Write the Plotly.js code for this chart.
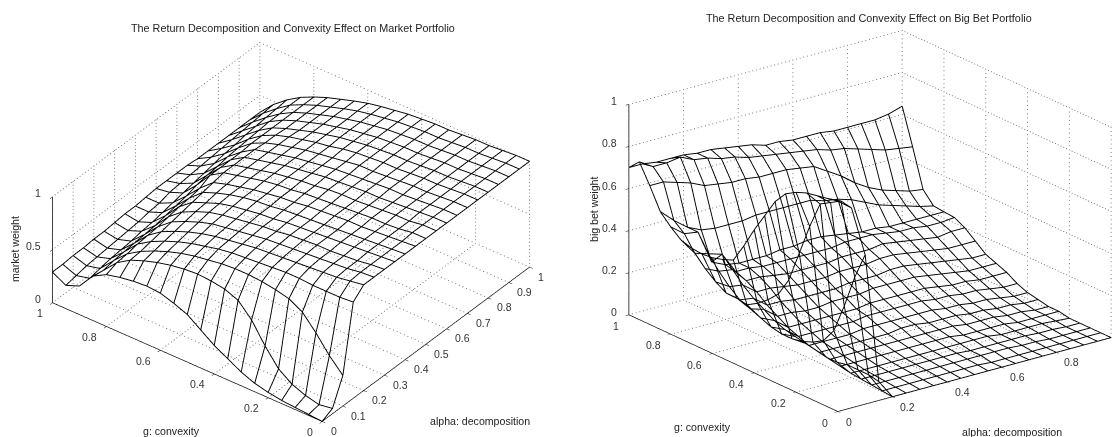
<!DOCTYPE html>
<html><head><meta charset="utf-8">
<script src="https://cdn.plot.ly/plotly-3.0.1.min.js"></script>
<style>html,body{margin:0;padding:0;background:#fff;overflow:hidden;width:1117px;height:437px}#c{position:absolute;left:0;top:0}</style>
</head><body><div id="c"></div>
<script>
// g: convexity (columns)
const gValues=[0,.05,.1,.15,.2,.25,.3,.35,.4,.45,.5,.55,.6,.65,.7,.75,.8,.85,.9,.95,1];
// alpha: decomposition (rows)
const alphaValues=[0,.05,.1,.15,.2,.25,.3,.35,.4,.45,.5,.55,.6,.65,.7,.75,.8,.85,.9,.95,1];
// market weight: one row per alpha, one column per g
const marketWeight=[
[0,.01,.02,.03,.05,.08,.13,.20,.27,.36,.45,.50,.54,.55,.54,.52,.49,.42,.27,.22,.29],
[.05,.03,.06,.11,.20,.36,.55,.68,.73,.75,.76,.75,.73,.70,.66,.61,.53,.40,.27,.24,.29],
[.29,.42,.58,.72,.79,.82,.84,.85,.85,.84,.82,.80,.77,.73,.68,.62,.54,.42,.29,.26,.30],
[.91,.90,.90,.90,.91,.91,.90,.89,.88,.87,.85,.82,.79,.75,.70,.64,.56,.43,.31,.27,.30],
[1,.98,.96,.95,.94,.93,.92,.91,.90,.88,.86,.84,.81,.77,.72,.66,.57,.44,.32,.28,.31],
[1,.99,.97,.96,.95,.94,.93,.92,.91,.89,.87,.85,.83,.79,.74,.68,.58,.45,.33,.29,.31],
[1,.99,.97,.96,.95,.95,.94,.93,.91,.90,.88,.86,.84,.81,.76,.70,.60,.46,.35,.30,.32],
[1,.99,.98,.97,.96,.95,.94,.93,.92,.90,.89,.87,.85,.82,.77,.72,.62,.48,.36,.31,.33],
[1,.99,.98,.97,.96,.95,.94,.93,.92,.91,.89,.88,.86,.83,.79,.74,.63,.50,.38,.33,.33],
[1,.99,.98,.97,.96,.96,.95,.94,.93,.91,.90,.88,.86,.83,.80,.76,.65,.52,.40,.34,.34],
[1,1,.98,.97,.97,.96,.95,.94,.93,.92,.90,.89,.87,.84,.81,.78,.70,.55,.42,.37,.35],
[1,1,.98,.98,.97,.96,.95,.95,.94,.92,.91,.89,.87,.84,.81,.78,.70,.57,.44,.38,.35],
[1,1,.99,.98,.97,.96,.96,.95,.94,.93,.91,.89,.87,.84,.81,.78,.70,.58,.46,.39,.35],
[1,1,.99,.98,.97,.97,.96,.95,.94,.93,.91,.89,.87,.84,.81,.78,.70,.60,.48,.40,.35],
[1,1,.99,.98,.98,.97,.96,.95,.95,.93,.91,.89,.87,.84,.81,.77,.71,.61,.50,.41,.34],
[1,1,.99,.98,.98,.97,.96,.96,.95,.94,.92,.89,.87,.84,.81,.77,.71,.62,.51,.42,.34],
[1,1,.99,.98,.98,.97,.96,.96,.95,.94,.92,.90,.87,.84,.80,.76,.71,.63,.53,.43,.34],
[1,1,.99,.98,.98,.97,.96,.96,.95,.94,.92,.90,.87,.84,.80,.76,.71,.64,.54,.44,.34],
[1,1,.99,.98,.98,.97,.96,.96,.95,.94,.92,.90,.87,.84,.80,.76,.71,.64,.55,.45,.34],
[1,1,.99,.98,.98,.97,.96,.96,.95,.94,.92,.90,.875,.84,.80,.76,.71,.65,.56,.46,.34],
[1,1,.99,.98,.98,.97,.96,.96,.95,.94,.92,.90,.875,.84,.80,.76,.71,.65,.57,.47,.34]
];
// big bet weight: one row per alpha, one column per g
const bigBetWeight=[
[1,.99,.98,.97,.95,.92,.86,.77,.68,.58,.49,.47,.455,.45,.455,.47,.51,.56,.66,.75,.70],
[.95,.96,.93,.90,.77,.62,.47,.38,.33,.29,.26,.27,.27,.30,.34,.39,.46,.50,.66,.71,.70],
[.71,.58,.42,.28,.21,.18,.16,.15,.15,.16,.18,.20,.22,.26,.31,.37,.45,.45,.64,.71,.69],
[.09,.10,.10,.10,.09,.09,.10,.11,.12,.13,.15,.18,.21,.25,.30,.35,.29,.42,.62,.72,.69],
[0,.005,.01,.015,.02,.03,.04,.05,.06,.08,.10,.13,.16,.20,.23,.25,.26,.41,.59,.69,.69],
[0,.005,.01,.015,.02,.03,.04,.05,.06,.08,.10,.13,.16,.20,.23,.25,.25,.41,.58,.68,.68],
[0,.005,.01,.015,.02,.03,.04,.05,.06,.08,.10,.12,.15,.19,.22,.24,.25,.41,.57,.66,.68],
[0,.005,.01,.015,.02,.03,.04,.05,.06,.08,.10,.12,.15,.18,.21,.24,.25,.42,.57,.65,.67],
[0,.005,.01,.015,.02,.03,.04,.05,.07,.08,.10,.13,.15,.18,.21,.24,.26,.42,.56,.63,.66],
[0,.005,.01,.015,.02,.03,.04,.05,.07,.09,.10,.13,.15,.18,.21,.24,.26,.42,.56,.62,.65],
[0,.005,.01,.015,.02,.03,.04,.06,.07,.09,.11,.13,.16,.19,.21,.24,.27,.42,.56,.61,.63],
[0,.005,.01,.015,.02,.03,.04,.06,.07,.09,.11,.14,.16,.19,.22,.24,.27,.42,.55,.60,.63],
[0,0,.01,.01,.02,.03,.04,.05,.07,.09,.11,.14,.16,.19,.22,.25,.26,.40,.54,.59,.62],
[0,0,.01,.01,.02,.02,.04,.05,.07,.09,.11,.14,.17,.20,.22,.25,.25,.39,.50,.58,.62],
[0,0,.01,.01,.02,.02,.03,.05,.06,.08,.11,.14,.17,.20,.23,.25,.24,.37,.46,.56,.62],
[0,0,.005,.01,.01,.02,.03,.04,.06,.08,.10,.13,.16,.19,.22,.24,.24,.34,.41,.55,.61],
[0,0,.005,.01,.01,.02,.03,.04,.05,.07,.09,.12,.15,.18,.21,.23,.23,.31,.37,.53,.61],
[0,0,0,.005,.01,.01,.02,.03,.05,.07,.09,.11,.14,.17,.20,.23,.23,.29,.34,.51,.61],
[0,0,0,.005,.01,.01,.02,.03,.04,.06,.08,.10,.13,.16,.19,.22,.23,.27,.32,.49,.61],
[0,0,0,0,.005,.01,.01,.02,.03,.05,.08,.10,.12,.16,.20,.22,.23,.25,.30,.48,.62],
[0,0,0,0,0,.01,.01,.02,.03,.05,.08,.10,.12,.16,.20,.226,.23,.235,.29,.47,.64]
];
const leftZTicks=[0,.5,1], rightZTicks=[0,.2,.4,.6,.8,1];
const gTicks=[0,.2,.4,.6,.8,1];
const leftAlphaTicks=[0,.1,.2,.3,.4,.5,.6,.7,.8,.9,1], rightAlphaTicks=[0,.2,.4,.6,.8];

const W=1140,H=437;
function wire(rows,scene){
  const x=[],y=[],z=[];
  rows.forEach((row,i)=>{row.forEach((v,j)=>{x.push(alphaValues[i]);y.push(gValues[j]);z.push(v)});x.push(null);y.push(null);z.push(null)});
  gValues.forEach((g,j)=>{rows.forEach((row,i)=>{x.push(alphaValues[i]);y.push(g);z.push(row[j])});x.push(null);y.push(null);z.push(null)});
  return {type:'scatter3d',mode:'lines',scene,x,y,z,line:{color:'#000',width:1.9},hoverinfo:'skip',showlegend:false};
}
// dotted reference lines on the floor and the two back walls, at the tick values
function grid(aT,gT,zT,scene,zStep){
  const x=[],y=[],z=[];
  const run=(a,b,n)=>{for(let i=0;i<=n;i++){const t=i/n;x.push(a[0]+(b[0]-a[0])*t);y.push(a[1]+(b[1]-a[1])*t);z.push(a[2]+(b[2]-a[2])*t)}};
  const nH=75,nV=Math.round(1/zStep);
  aT.concat(aT.indexOf(1)<0?[1]:[]).forEach(a=>{run([a,0,0],[a,1,0],nH);run([a,1,0],[a,1,1],nV)});
  gT.forEach(g=>{run([0,g,0],[1,g,0],nH);run([1,g,0],[1,g,1],nV)});
  zT.forEach(v=>{run([0,1,v],[1,1,v],nH);run([1,1,v],[1,0,v],nH)});
  return {type:'scatter3d',mode:'markers',scene,x,y,z,marker:{color:'#666',size:.6,opacity:1,line:{width:0}},hoverinfo:'skip',showlegend:false};
}
const tickFont={family:'Liberation Sans',size:10.5,color:'#333'};
function axis(ticks){
  return {range:[0,1],autorange:false,tickmode:'array',tickvals:ticks,showticklabels:false,
    showgrid:false,zeroline:false,showbackground:false,showspikes:false,showline:true,linecolor:'#000',linewidth:1.5,
    ticks:'outside',ticklen:4,tickcolor:'#000',tickwidth:1,title:{text:''}};
}
// tick labels anchored to the tick positions on the axes
function labels(aT,zT){
  const a=[];
  const lab=(v,x,y,z,dx,dy,anchor)=>a.push({x,y,z,text:String(v),showarrow:false,xanchor:anchor||'center',yanchor:'middle',xshift:dx,yshift:dy,font:tickFont});
  zT.forEach(v=>lab(v,0,1,v,-9,3,'right'));
  gTicks.forEach(g=>lab(g,0,g,0,(g===0||g===1)?-12.5:-17,-11));
  aT.forEach(t=>lab(t,t,0,0,(t===0||t===1)?11.5:16,-10));
  return a;
}
function scene(cx,cy,hw,hh,eye,az,zt,at,k){
  return {domain:{x:[(cx-hw)/W,(cx+hw)/W],y:[1-(cy+hh)/H,1-(cy-hh)/H]},
    xaxis:axis(at),yaxis:axis(gTicks),zaxis:axis(zt),annotations:labels(at,zt),
    aspectmode:'manual',aspectratio:{x:k,y:k,z:az*k},
    camera:{projection:{type:'orthographic'},up:{x:0,y:0,z:1},center:{x:0,y:0,z:0},
      eye:{x:eye[0]*2,y:eye[1]*2,z:eye[2]*2}}};
}
function note(t,px,py,size,rot){return {text:t,xref:'paper',yref:'paper',x:px/W,y:1-py/H,showarrow:false,xanchor:'center',yanchor:'middle',textangle:rot||0,font:{family:'Liberation Sans',size:size,color:'#222'}};}
const layout={width:W,height:H,margin:{l:0,r:0,t:0,b:0},paper_bgcolor:'#fff',showlegend:false,
  scene:scene(291,231.5,291,205,[-.650,-.500,.5725],.379,leftZTicks,leftAlphaTicks,1.66),
  scene2:scene(869.5,221,262,215,[-.568,-.743,.354],.654,rightZTicks,rightAlphaTicks,1.6),
  annotations:[
   note('The Return Decomposition and Convexity Effect on Market Portfolio',293,28,10.8),
   note('The Return Decomposition and Convexity Effect on Big Bet Portfolio',869,18,10.8),
   note('market weight',15,249,10.6),
   note('big bet weight',594,210,10.6),
   note('g: convexity',171,431,10.6),
   note('g: convexity',702,427,10.6),
   note('alpha: decomposition',480,421,10.6),
   note('alpha: decomposition',1012,432,10.6)
  ]};
layout.annotations[2].textangle=-90;layout.annotations[3].textangle=-90;
Plotly.newPlot('c',[
  grid(leftAlphaTicks,gTicks,leftZTicks,'scene',.033),wire(marketWeight,'scene'),
  grid(rightAlphaTicks,gTicks,rightZTicks,'scene2',.02),wire(bigBetWeight,'scene2')
],layout,{displayModeBar:false});
</script></body></html>
